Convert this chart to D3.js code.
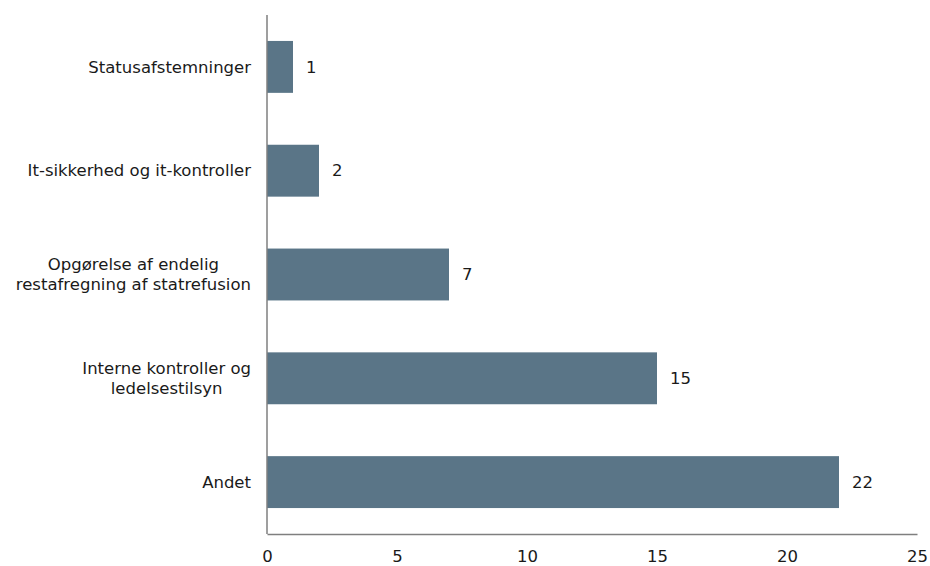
<!DOCTYPE html>
<meta charset="utf-8">
<style>
body { margin: 0; background: #fff; }
text {
  font-family: "DejaVu Sans", Verdana, sans-serif;
  font-size: 16.5px;
  fill: #1a1a1a;
}
</style>
<svg width="930" height="566"></svg>
<script src="https://d3js.org/d3.v7.min.js"></script>
<script>

var categories = [
  ["Statusafstemninger"],
  ["It-sikkerhed og it-kontroller"],
  ["Opgørelse af endelig", "restafregning af statrefusion"],
  ["Interne kontroller og", "ledelsestilsyn"],
  ["Andet"]
];
var values = [1, 2, 7, 15, 22];
var xTicks = [0, 5, 10, 15, 20, 25];

var svg = d3.select("svg");
var margin = {left: 267, right: 13, top: 15, bottom: 32};
var width = 930, height = 566;

var x = d3.scaleLinear()
    .domain([0, 25])
    .range([margin.left, width - margin.right]);

var y = d3.scaleBand()
    .domain(d3.range(values.length))
    .range([margin.top, height - margin.bottom])
    .paddingInner(0.5)
    .paddingOuter(0.25);

// bars
svg.append("g")
  .selectAll("rect")
  .data(values)
  .enter().append("rect")
    .attr("x", x(0))
    .attr("y", function(d, i) { return y(i); })
    .attr("width", function(d) { return x(d) - x(0); })
    .attr("height", y.bandwidth())
    .attr("fill", "#5a7587");

// value labels
svg.append("g")
  .selectAll("text")
  .data(values)
  .enter().append("text")
    .attr("x", function(d) { return x(d) + 13; })
    .attr("y", function(d, i) { return y(i) + y.bandwidth() / 2; })
    .attr("dy", "0.35em")
    .text(function(d) { return d; });

// category labels (multi-line ones are centred inside their block)
var lineH = 20;
var labelRight = x(0) - 16;
svg.append("g")
  .selectAll("text")
  .data(categories)
  .enter().append("text")
    .attr("text-anchor", "middle")
    .each(function(d, i) {
      var t = d3.select(this);
      var cy = y(i) + y.bandwidth() / 2 - (d.length - 1) * lineH / 2;
      d.forEach(function(line, j) {
        t.append("tspan")
          .attr("x", 0)
          .attr("y", j * lineH)
          .attr("dy", "0.35em")
          .text(line);
      });
      var w = d3.max(t.selectAll("tspan").nodes(), function(n) { return n.getComputedTextLength(); });
      t.attr("transform", "translate(" + (labelRight - w / 2) + "," + cy + ")");
    });

// x axis
var xAxis = svg.append("g")
    .attr("transform", "translate(0," + (height - margin.bottom) + ")")
    .call(d3.axisBottom(x).tickValues(xTicks).tickSize(0).tickPadding(16));
xAxis.selectAll("text")
    .style("font-size", "16.5px")
    .style("font-family", "'DejaVu Sans', Verdana, sans-serif")
    .attr("fill", "#1a1a1a");
xAxis.select(".domain").attr("stroke", "#7f7f7f").attr("stroke-width", 1.5);

// y axis line
svg.append("line")
    .attr("x1", x(0)).attr("x2", x(0))
    .attr("y1", margin.top).attr("y2", height - margin.bottom)
    .attr("stroke", "#7f7f7f")
    .attr("stroke-width", 1.5);

</script>
